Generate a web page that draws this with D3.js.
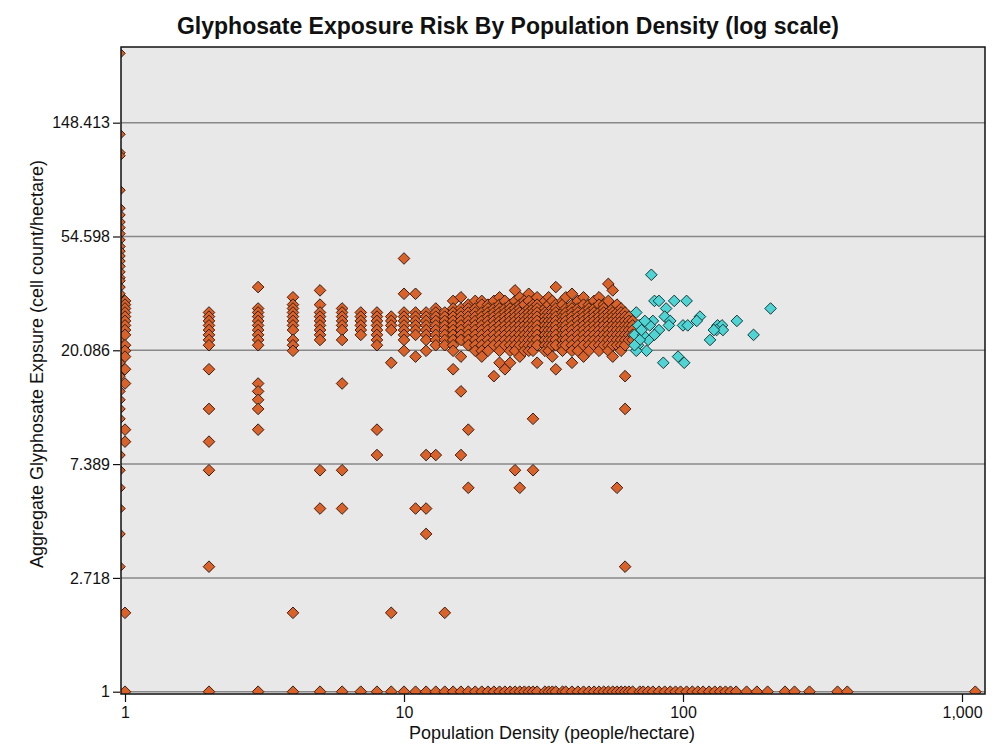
<!DOCTYPE html>
<html>
<head>
<meta charset="utf-8">
<script src="https://cdn.jsdelivr.net/npm/d3@7"></script>
<style>
  body { margin: 0; background: #fff; }
  text { font-family: "Liberation Sans", Arial, sans-serif; }
</style>
</head>
<body>
<svg id="chart" width="999" height="749"></svg>
<script>
const chartTitle = "Glyphosate Exposure Risk By Population Density (log scale)";
const xLabel = "Population Density (people/hectare)";
const yLabel = "Aggregate Glyphosate Expsure (cell count/hectare)";

const yTicks = [1, 2.718, 7.389, 20.086, 54.598, 148.413];
const yTickLabels = ["1", "2.718", "7.389", "20.086", "54.598", "148.413"];
const xTicks = [1, 10, 100, 1000];
const xTickLabels = ["1", "10", "100", "1,000"];

// orange series, one entry per density value: [density, [exposure values]]
const orangeCols = [
  [0.955, [273, 134, 114, 111, 82, 70, 66, 62, 59, 56, 53, 50, 48, 46, 44, 42, 40, 38, 37, 35, 33, 31, 30, 29, 28, 27, 26, 25, 24, 23, 22, 21, 20, 19, 18, 16, 14, 13, 12, 11, 8, 7, 6, 5, 4, 3]],
  [1, [31, 30, 29, 28, 27, 26, 25, 24, 23, 21, 20, 19, 17, 15, 10, 9, 2, 1]],
  [2, [28, 27, 26, 25, 24, 23, 22, 21, 17, 12, 9, 7, 3, 1]],
  [3, [35, 29, 28, 27, 26, 25, 24, 23, 22, 21, 15, 14, 13, 12, 10, 1]],
  [4, [32, 30, 29, 28, 27, 26, 25, 24, 22, 21, 20, 2, 1]],
  [5, [34, 30, 28, 27, 26, 25, 24, 23, 22, 7, 5, 1]],
  [6, [29, 28, 27, 26, 25, 24, 22, 15, 7, 5, 1]],
  [7, [28, 27, 26, 25, 24, 23, 1]],
  [8, [28, 27, 26, 25, 24, 23, 22, 21, 10, 8, 1]],
  [9, [27, 26, 25, 24, 18, 2, 1]],
  [10, [45, 33, 28, 27, 26, 25, 24, 23, 22, 20, 1]],
  [11, [33, 28, 27, 26, 25, 24, 23, 19, 5, 1]],
  [12, [28, 27, 26, 25, 24, 23, 22, 20, 8, 5, 4, 1]],
  [13, [29, 28, 27, 26, 25, 24, 23, 22, 21, 8, 1]],
  [14, [28, 27, 26, 25, 24, 23, 22, 21, 2, 1]],
  [15, [31, 29, 28, 27, 26, 25, 24, 23, 22, 21, 20, 17, 1]],
  [16, [32, 29, 28, 27, 26, 25, 24, 23, 22, 19, 14, 8, 1]],
  [17, [30, 29, 28, 27, 26, 25, 24, 23, 22, 21, 10, 6, 1]],
  [18, [31, 29, 28, 27, 26, 25, 24, 23, 22, 21, 20, 1]],
  [19, [31, 30, 28, 27, 26, 25, 24, 23, 22, 21, 20, 19, 1]],
  [20, [30, 29, 28, 27, 26, 25, 24, 23, 22, 21, 20, 1]],
  [21, [31, 29, 28, 27, 26, 25, 24, 23, 22, 21, 16, 1]],
  [22, [32, 30, 29, 28, 27, 26, 25, 24, 23, 22, 21, 20, 18, 1]],
  [23, [31, 29, 28, 27, 26, 25, 24, 23, 22, 21, 17, 1]],
  [24, [30, 29, 28, 27, 26, 25, 24, 23, 22, 21, 20, 18, 1]],
  [25, [34, 31, 29, 28, 27, 26, 25, 24, 23, 22, 21, 20, 7, 1]],
  [26, [32, 30, 29, 28, 27, 26, 25, 24, 23, 22, 21, 19, 6, 1]],
  [27, [31, 30, 28, 27, 26, 25, 24, 23, 22, 21, 20, 1]],
  [28, [33, 31, 29, 28, 27, 26, 25, 24, 23, 22, 21, 20, 1]],
  [29, [30, 29, 28, 27, 26, 25, 24, 23, 22, 21, 20, 11, 7, 1]],
  [30, [32, 30, 29, 28, 27, 26, 25, 24, 23, 22, 21, 18, 1]],
  [32, [31, 29, 28, 27, 26, 25, 24, 23, 22, 21, 20, 1]],
  [33, [32, 30, 28, 27, 26, 25, 24, 23, 22, 21, 20, 1]],
  [34, [31, 29, 28, 27, 26, 25, 24, 23, 22, 21, 19, 1]],
  [35, [35, 30, 29, 28, 27, 26, 25, 24, 23, 22, 21, 17, 1]],
  [37, [31, 30, 28, 27, 26, 25, 24, 23, 22, 21, 20, 1]],
  [38, [32, 29, 28, 27, 26, 25, 24, 23, 22, 21, 1]],
  [40, [33, 30, 29, 28, 27, 26, 25, 24, 23, 22, 21, 20, 18, 1]],
  [42, [31, 29, 28, 27, 26, 25, 24, 23, 22, 21, 20, 1]],
  [44, [32, 30, 28, 27, 26, 25, 24, 23, 22, 21, 19, 1]],
  [46, [30, 29, 28, 27, 26, 25, 24, 23, 22, 21, 20, 1]],
  [48, [31, 29, 28, 27, 26, 25, 24, 23, 22, 21, 1]],
  [50, [32, 30, 28, 27, 26, 25, 24, 23, 22, 21, 20, 1]],
  [52, [30, 29, 28, 27, 26, 25, 24, 23, 22, 21, 1]],
  [54, [36, 31, 28, 27, 26, 25, 24, 23, 22, 21, 20, 1]],
  [56, [34, 29, 28, 27, 26, 25, 24, 23, 22, 21, 19, 1]],
  [58, [30, 28, 27, 26, 25, 24, 23, 22, 21, 6, 1]],
  [60, [29, 28, 27, 26, 25, 24, 23, 22, 21, 20, 1]],
  [62, [28, 27, 26, 25, 24, 23, 22, 21, 16, 12, 3, 1]],
  [64, [27, 26, 25, 24, 23, 22, 1]],
  [66, [26, 25, 24, 23, 22, 1]]
];

// orange points sitting on the bottom (exposure = 1) beyond the main cluster
const baseDensity = [70, 72, 75, 78, 82, 86, 90, 94, 98, 103, 108, 113, 118, 124, 130, 136, 142, 148,
  155, 169, 184, 201, 232, 251, 284, 358, 388, 1116];

// cyan series: [density, exposure]
const cyanPts = [
  [77, 39], [79, 31], [82, 31], [93, 31], [103, 31], [87, 29], [68, 28], [86, 27], [115, 27],
  [112, 26], [156, 26], [206, 29], [90, 26], [100, 25], [104, 25], [89, 25], [78, 26], [76, 25],
  [70, 25], [133, 25], [138, 25], [132, 24], [139, 24], [82, 24], [79, 23], [129, 24], [125, 22],
  [179, 23], [75, 22], [69, 21], [74, 20], [68, 20], [85, 18], [96, 19], [101, 18], [69, 25],
  [67, 23], [72, 23], [70, 22], [67, 21], [71, 24], [73, 26]
];

const plot = { left: 121, top: 47, right: 985, bottom: 694 };

const svg = d3.select("#chart");

const x = d3.scaleLog().domain([0.9675, 1209]).range([plot.left, plot.right]);
const y = d3.scaleLog().base(Math.E).domain([0.98, 288.6]).range([plot.bottom, plot.top]);

let orangePts = [];
orangeCols.forEach(c => {
  c[1].forEach(v => orangePts.push([c[0], v]));
});
baseDensity.forEach(d => orangePts.push([d, 1]));

// title
svg.append("text")
  .attr("x", 508).attr("y", 34)
  .attr("text-anchor", "middle")
  .attr("font-size", 23).attr("font-weight", "bold")
  .attr("fill", "#111")
  .text(chartTitle);

// plot background
svg.append("rect")
  .attr("x", plot.left).attr("y", plot.top)
  .attr("width", plot.right - plot.left).attr("height", plot.bottom - plot.top)
  .attr("fill", "#e8e8e8");

svg.append("clipPath").attr("id", "clip")
  .append("rect")
  .attr("x", plot.left).attr("y", plot.top)
  .attr("width", plot.right - plot.left).attr("height", plot.bottom - plot.top);

// gridlines
svg.append("g")
  .selectAll("line")
  .data(yTicks)
  .join("line")
  .attr("x1", plot.left).attr("x2", plot.right)
  .attr("y1", d => y(d)).attr("y2", d => y(d))
  .attr("stroke", "#888").attr("stroke-width", 1.5);

const diamond = "M0,-5.8L5.8,0L0,5.8L-5.8,0Z";

const pts = svg.append("g").attr("clip-path", "url(#clip)");

pts.append("g")
  .selectAll("path")
  .data(orangePts)
  .join("path")
  .attr("d", diamond)
  .attr("transform", d => `translate(${x(d[0])},${y(d[1])})`)
  .attr("fill", "#d9622b")
  .attr("stroke", "#3a1d10")
  .attr("stroke-width", 1)
  .attr("stroke-linejoin", "round");

pts.append("g")
  .selectAll("path")
  .data(cyanPts)
  .join("path")
  .attr("d", diamond)
  .attr("transform", d => `translate(${x(d[0])},${y(d[1])})`)
  .attr("fill", "#4fd3d3")
  .attr("stroke", "#16393a")
  .attr("stroke-width", 1)
  .attr("stroke-linejoin", "round");

// frame
svg.append("rect")
  .attr("x", plot.left).attr("y", plot.top)
  .attr("width", plot.right - plot.left).attr("height", plot.bottom - plot.top)
  .attr("fill", "none").attr("stroke", "#111").attr("stroke-width", 1.5);

// axes
const yAxis = d3.axisLeft(y)
  .tickValues(yTicks)
  .tickFormat((d, i) => yTickLabels[i])
  .tickSize(7).tickPadding(3);

const xAxis = d3.axisBottom(x)
  .tickValues(xTicks)
  .tickFormat((d, i) => xTickLabels[i])
  .tickSize(8).tickPadding(5);

const gy = svg.append("g").attr("transform", `translate(${plot.left - 1},0)`).call(yAxis);
const gx = svg.append("g").attr("transform", `translate(0,${plot.bottom})`).call(xAxis);

[gx, gy].forEach(g => {
  g.select(".domain").remove();
  g.selectAll(".tick line").attr("stroke", "#111").attr("stroke-width", 1.2);
  g.selectAll(".tick text")
    .attr("font-size", 16)
    .attr("fill", "#111")
    .style("font-family", "'Liberation Sans', Arial, sans-serif");
});

// axis labels
svg.append("text")
  .attr("x", 552).attr("y", 739)
  .attr("text-anchor", "middle")
  .attr("font-size", 18).attr("fill", "#111")
  .text(xLabel);

svg.append("text")
  .attr("transform", "translate(43,364) rotate(-90)")
  .attr("text-anchor", "middle")
  .attr("font-size", 18).attr("fill", "#111")
  .text(yLabel);
</script>
</body>
</html>
